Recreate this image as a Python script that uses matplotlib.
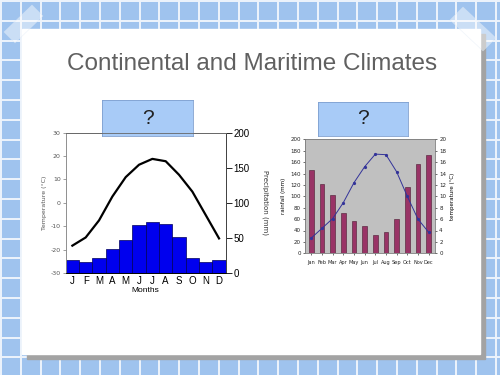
import matplotlib
matplotlib.use("Agg")
import matplotlib.pyplot as plt
from matplotlib.patches import Rectangle, Polygon
import numpy as np

plt.rcParams["axes.unicode_minus"] = False

# ---- data ----
months_short = ["J", "F", "M", "A", "M", "J", "J", "A", "S", "O", "N", "D"]
cont_temp = [-18.3, -14.8, -7.5, 2.7, 11.0, 16.3, 18.8, 17.8, 12.0, 4.8, -5.2, -15.2]
cont_precip = [19, 16, 21, 34, 47, 68, 72, 70, 52, 22, 15, 19]

months_abbr = ["Jan", "Feb", "Mar", "Apr", "May", "Jun", "Jul", "Aug", "Sep", "Oct", "Nov", "Dec"]
mar_rain = [147, 122, 103, 70, 56, 48, 32, 38, 60, 117, 156, 173]
mar_temp = [2.7, 4.4, 6.1, 8.9, 12.4, 15.2, 17.4, 17.3, 14.3, 10.0, 6.0, 3.7]

W, H = 500, 375
fig = plt.figure(figsize=(5, 3.75), dpi=100)

# ---- background slide ----
bg = fig.add_axes([0, 0, 1, 1])
bg.set_xlim(0, W)
bg.set_ylim(H, 0)
bg.axis("off")
bg.add_patch(Rectangle((0, 0), W, H, color="#9fc3ee", zorder=0))
step = 19.8
for k in range(0, 27):
    xx = 1 + k * step
    bg.plot([xx, xx], [0, H], color="#eef4fc", lw=1.4, zorder=1)
for k in range(0, 20):
    yy = 1 + k * step
    bg.plot([0, W], [yy, yy], color="#eef4fc", lw=1.4, zorder=1)
# shadow
bg.add_patch(Rectangle((27, 34), 458, 325, color="#a3a3a3", zorder=2))
# paper
bg.add_patch(Rectangle((22, 29), 458, 325, color="white", zorder=3))
# tapes
bg.add_patch(Polygon([(4, 32), (32, 5), (43, 16), (15, 43)], closed=True,
                     facecolor="white", alpha=0.45, edgecolor="#dde8f5", lw=0.5, zorder=4))
bg.add_patch(Polygon([(450, 20), (463, 7), (496, 38), (483, 51)], closed=True,
                     facecolor="white", alpha=0.45, edgecolor="#dde8f5", lw=0.5, zorder=4))

fig.text(252 / W, 1 - 64 / H, "Continental and Maritime Climates", ha="center", va="center",
         fontsize=17.5, color="#606060", family="Liberation Sans")

# ---- left chart (continental) ----
ax = fig.add_axes([65.7 / W, 1 - 273 / H, 160 / W, 140.3 / H])
ax2 = ax.twinx()
x = np.arange(12)
ax2.bar(x, cont_precip, width=1.0, color="#0000ee", edgecolor="#00005a", lw=0.5)
ax2.set_ylim(0, 200)
ax.plot(x, cont_temp, color="black", lw=1.6)
ax.set_ylim(-30, 30)
ax.set_xlim(-0.5, 11.5)
ax.set_zorder(ax2.get_zorder() + 1)
ax.patch.set_visible(False)

ax.set_yticks([-30, -20, -10, 0, 10, 20, 30])
ax.tick_params(axis="y", labelsize=4.5, labelcolor="#555555", length=2, width=0.5, color="#777777", pad=1.5)
ax.set_xticks(x)
ax.set_xticklabels(months_short, fontsize=7, family="Liberation Sans")
ax.tick_params(axis="x", length=0, pad=2)
ax.set_xlabel("Months", fontsize=6, labelpad=1, family="Liberation Sans")
ax.set_ylabel("Temperature (°C)", fontsize=4.5, color="#555555", labelpad=3)
ax2.set_yticks([0, 50, 100, 150, 200])
ax2.tick_params(axis="y", labelsize=7, length=4, width=0.6, pad=1.5)
for t in ax2.get_yticklabels():
    t.set_family("Liberation Sans")
ax2.set_ylabel("Precipitation (mm)", fontsize=5, rotation=270, labelpad=14, color="#333333")
for a in (ax, ax2):
    a.spines["top"].set_color("#666666")
    a.spines["top"].set_linewidth(0.6)
    a.spines["left"].set_color("#888888")
    a.spines["left"].set_linewidth(0.5)
    a.spines["right"].set_color("#444444")
    a.spines["right"].set_linewidth(0.7)
    a.spines["bottom"].set_linewidth(0.6)

# ---- right chart (maritime) ----
bx = fig.add_axes([305 / W, 1 - 253.3 / H, 130 / W, 114 / H])
bx.set_facecolor("#c0c0c0")
bx.bar(x, mar_rain, width=0.42, color="#993366", edgecolor="#4a1830", lw=0.4)
bx.set_ylim(0, 200)
bx.set_xlim(-0.6, 11.6)
bx.set_yticks(range(0, 201, 20))
bx.set_xticks(x)
bx.set_xticklabels(months_abbr, fontsize=3.6)
bx.tick_params(axis="y", labelsize=4.0, length=1.5, width=0.4, pad=1.5, labelcolor="#222222")
bx.tick_params(axis="x", labelsize=3.6, length=1.5, width=0.4, pad=3, labelcolor="#222222")
bx.set_ylabel("rainfall (mm)", fontsize=4.0, labelpad=3)
bx2 = bx.twinx()
bx2.plot(x, mar_temp, color="#333399", lw=0.7, marker="o", markersize=1.3)
bx2.set_ylim(0, 20)
bx2.set_yticks(range(0, 21, 2))
bx2.tick_params(axis="y", labelsize=4.0, length=1.5, width=0.4, pad=1.5, labelcolor="#222222")
bx2.set_ylabel("temperature (°C)", fontsize=4.0, labelpad=3)
for a in (bx, bx2):
    for s in a.spines.values():
        s.set_linewidth(0.4)
        s.set_color("#777777")

# ---- question boxes ----
for (x0, y0, x1, y1) in [(101.7, 100, 193.3, 136), (317.7, 102, 407.7, 136)]:
    bg2 = fig.add_axes([x0 / W, 1 - y1 / H, (x1 - x0) / W, (y1 - y0) / H])
    bg2.set_xticks([]); bg2.set_yticks([])
    bg2.set_facecolor("#a8cbf7")
    for s in bg2.spines.values():
        s.set_color("#7f9fcf")
        s.set_linewidth(0.6)
    bg2.text(0.5, 0.5, "?", ha="center", va="center", fontsize=15, color="#222222",
             family="Liberation Sans", transform=bg2.transAxes)

fig.savefig("out.png", dpi=100)
